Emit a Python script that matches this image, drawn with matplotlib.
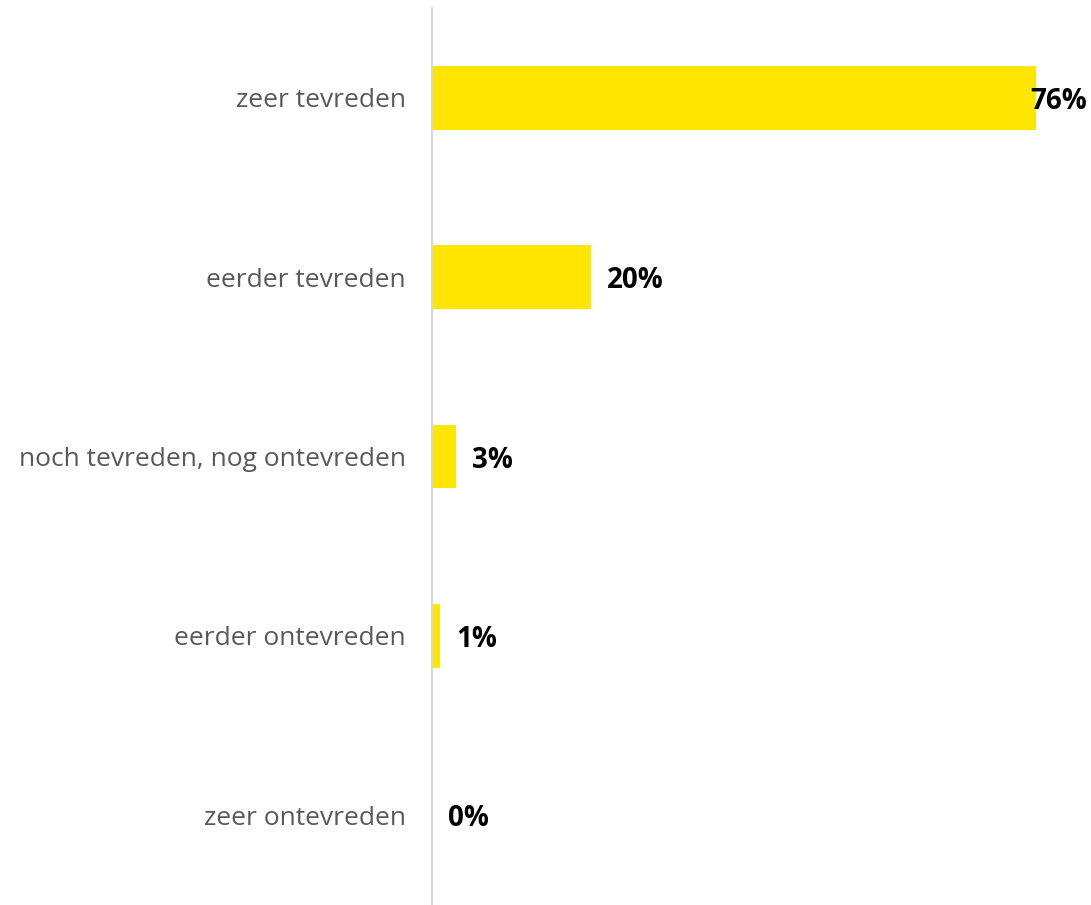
import matplotlib
matplotlib.use("Agg")
import matplotlib.pyplot as plt

categories = ["zeer tevreden", "eerder tevreden", "noch tevreden, nog ontevreden",
              "eerder ontevreden", "zeer ontevreden"]
values = [76, 20, 3, 1, 0]
labels = ["76%", "20%", "3%", "1%", "0%"]

plt.rcParams["font.family"] = ["Open Sans", "DejaVu Sans"]

fig = plt.figure(figsize=(10.91, 9.05), dpi=100)
ax = fig.add_axes([432 / 1091, 0, (1087 - 432) / 1091, (905 - 8) / 905])

y = list(range(len(categories)))
ax.barh(y, values, height=0.355, color="#FFE600", zorder=2)
ax.set_ylim(len(categories) - 0.5, -0.5)
xmax = (1087 - 432) / 7.95
ax.set_xlim(0, xmax)

# value labels; the widest bar gets its label pinned to the right edge
for yi, v, lab in zip(y, values, labels):
    if v + 9 > xmax:
        ax.text(xmax, yi, lab, ha="right", va="center_baseline", fontsize=20,
                fontweight="bold", color="black", zorder=3)
    else:
        ax.text(v + 2.0, yi, lab, ha="left", va="center_baseline", fontsize=20,
                fontweight="bold", color="black", zorder=3)

ax.set_yticks(y)
ax.set_yticklabels(categories, fontsize=19, color="#595959")
ax.tick_params(axis="y", length=0, pad=19)
ax.set_xticks([])
for side in ["top", "right", "bottom"]:
    ax.spines[side].set_visible(False)
ax.spines["left"].set_color("#D9D9D9")
ax.spines["left"].set_linewidth(1.5)

fig.savefig("out.png", dpi=100)
